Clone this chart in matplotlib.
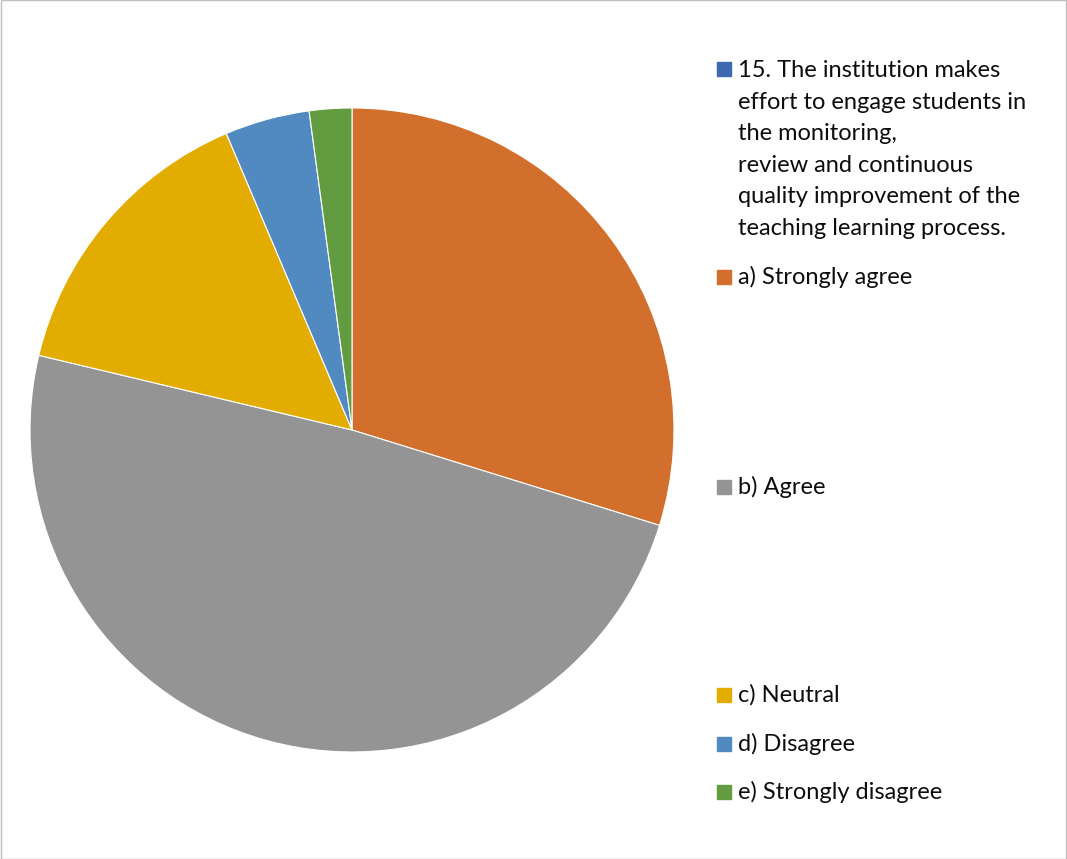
import numpy as np
import matplotlib.pyplot as plt
from matplotlib.patches import Rectangle

plt.rcParams['font.family'] = ['Lato', 'DejaVu Sans']

# responses per option (first entry is the question row, no count)
labels = ['15. The institution makes\neffort to engage students in\nthe monitoring,\nreview and continuous\nquality improvement of the\nteaching learning process.',
          'a) Strongly agree', 'b) Agree', 'c) Neutral', 'd) Disagree', 'e) Strongly disagree']
counts = [0, 14, 23, 7, 2, 1]
colors = ['#3E69B0', '#D36F2C', '#949494', '#E2AC00', '#508AC0', '#629B40']

fig = plt.figure(figsize=(10.67, 8.59), dpi=100)
fig.patches.append(Rectangle((0.0005, 0.0005), 0.999, 0.999, transform=fig.transFigure,
                             fill=False, edgecolor='#BFBFBF', linewidth=1))

ax = fig.add_axes([0.0281, 0.1246, 0.6036, 0.7497])
vals = [c for c in counts if c > 0]
cols = [col for c, col in zip(counts, colors) if c > 0]
ax.pie(vals, colors=cols, startangle=90, counterclock=False,
       wedgeprops=dict(edgecolor='white', linewidth=0.8))
ax.set_xlim(-1, 1)
ax.set_ylim(-1, 1)
ax.set_aspect('equal')

# legend entries, spread down the right side
ys = [69, 277, 487, 695, 744, 792]
for lab, col, y in zip(labels, colors, ys):
    fy = 1 - y / 859
    fig.patches.append(Rectangle((717 / 1067, fy - 7 / 859), 14 / 1067, 14 / 859,
                                 transform=fig.transFigure, color=col))
    if '\n' in lab:
        fig.text(738 / 1067, fy + 9 / 859, lab, va='top', ha='left',
                 fontsize=17, linespacing=1.62, color='#0D0D0D')
    else:
        fig.text(738 / 1067, fy, lab, va='center', ha='left',
                 fontsize=17, color='#0D0D0D')

fig.savefig('out.png', dpi=100)
